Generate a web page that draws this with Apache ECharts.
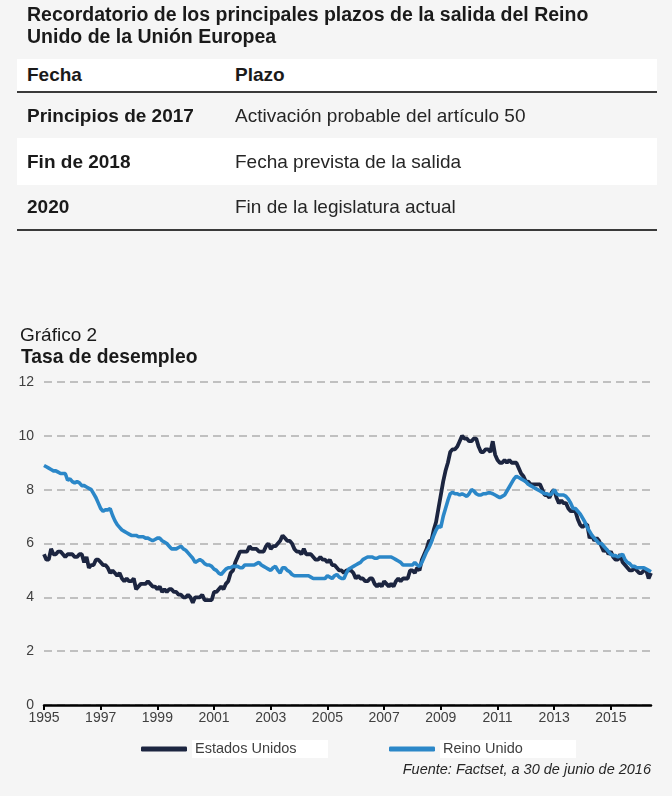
<!DOCTYPE html>
<html>
<head>
<meta charset="utf-8">
<script src="https://cdn.jsdelivr.net/npm/echarts@6/dist/echarts.min.js"></script>
<style>
  html, body { margin:0; padding:0; background:#f5f5f5; }
  body { width:672px; height:796px; position:relative; overflow:hidden; font-family:"Liberation Sans", Arial, sans-serif; color:#1a1a1a; }
  #chart { position:absolute; left:0; top:0; width:672px; height:796px; }
  .abs { position:absolute; white-space:nowrap; }
  .row { position:absolute; left:17px; width:640px; }
  .cell { position:absolute; top:0; bottom:0; display:flex; align-items:center; font-size:19px; }
  .b { font-weight:bold; }
  .rule { position:absolute; left:17px; width:640px; height:2px; background:#3a3a3a; }
</style>
</head>
<body>
<div id="chart"></div>

<div class="abs b" style="left:27px; top:4px; font-size:19.5px; line-height:21.5px;">Recordatorio de los principales plazos de la salida del Reino<br>Unido de la Unión Europea</div>

<div class="row" style="top:59px; height:32px; background:#fff;">
  <div class="cell b" style="left:10px;">Fecha</div>
  <div class="cell b" style="left:218px;">Plazo</div>
</div>
<div class="rule" style="top:91px;"></div>
<div class="row" style="top:93px; height:45px;">
  <div class="cell b" style="left:10px;">Principios de 2017</div>
  <div class="cell" style="left:218px; color:#262626;">Activación probable del artículo 50</div>
</div>
<div class="row" style="top:138px; height:47px; background:#fff;">
  <div class="cell b" style="left:10px;">Fin de 2018</div>
  <div class="cell" style="left:218px; color:#262626;">Fecha prevista de la salida</div>
</div>
<div class="row" style="top:185px; height:44px;">
  <div class="cell b" style="left:10px;">2020</div>
  <div class="cell" style="left:218px; color:#262626;">Fin de la legislatura actual</div>
</div>
<div class="rule" style="top:229px;"></div>

<div class="abs" style="left:20px; top:325px; font-size:19px; line-height:19px;">Gráfico 2</div>
<div class="abs b" style="left:21px; top:347px; font-size:19.3px; line-height:19px;">Tasa de desempleo</div>

<script>
// Monthly categories, Jan 1995 .. Jun 2016
const startYear = 1995, endYear = 2016, endMonth = 6;
const months = [];
for (let y = startYear; y <= endYear; y++) {
  for (let m = 1; m <= 12; m++) {
    if (y === endYear && m > endMonth) break;
    months.push(y + '-' + (m < 10 ? '0' + m : m));
  }
}

const seriesNames = ['Estados Unidos', 'Reino Unido'];

// Estados Unidos, monthly unemployment rate (%)
const usRate = [
  5.6,5.4,5.4,5.8,5.6,5.6,5.7,5.7,5.6,5.5,5.6,5.6,   // 1995
  5.6,5.5,5.5,5.6,5.6,5.3,5.5,5.1,5.2,5.2,5.4,5.4,   // 1996
  5.3,5.2,5.2,5.1,4.9,5.0,4.9,4.8,4.9,4.7,4.6,4.7,   // 1997
  4.6,4.6,4.7,4.3,4.4,4.5,4.5,4.5,4.6,4.5,4.4,4.4,   // 1998
  4.3,4.4,4.2,4.3,4.2,4.3,4.3,4.2,4.2,4.1,4.1,4.0,   // 1999
  4.0,4.1,4.0,3.8,4.0,4.0,4.0,4.1,3.9,3.9,3.9,3.9,   // 2000
  4.2,4.2,4.3,4.4,4.3,4.5,4.6,4.9,5.0,5.3,5.5,5.7,   // 2001
  5.7,5.7,5.7,5.9,5.8,5.8,5.8,5.7,5.7,5.7,5.9,6.0,   // 2002
  5.8,5.9,5.9,6.0,6.1,6.3,6.2,6.1,6.1,6.0,5.8,5.7,   // 2003
  5.7,5.6,5.8,5.6,5.6,5.6,5.5,5.4,5.4,5.5,5.4,5.4,   // 2004
  5.3,5.4,5.2,5.2,5.1,5.0,5.0,4.9,5.0,5.0,5.0,4.9,   // 2005
  4.7,4.8,4.7,4.7,4.6,4.6,4.7,4.7,4.5,4.4,4.5,4.4,   // 2006
  4.6,4.5,4.4,4.5,4.4,4.6,4.7,4.6,4.7,4.7,4.7,5.0,   // 2007
  5.0,4.9,5.1,5.0,5.4,5.6,5.8,6.1,6.1,6.5,6.8,7.3,   // 2008
  7.8,8.3,8.7,9.0,9.4,9.5,9.5,9.6,9.8,10.0,9.9,9.9,  // 2009
  9.8,9.8,9.9,9.9,9.6,9.4,9.4,9.5,9.5,9.4,9.8,9.3,   // 2010
  9.1,9.0,9.0,9.1,9.0,9.1,9.0,9.0,9.0,8.8,8.6,8.5,   // 2011
  8.3,8.3,8.2,8.2,8.2,8.2,8.2,8.0,7.8,7.8,7.7,7.9,   // 2012
  8.0,7.7,7.5,7.6,7.5,7.5,7.3,7.2,7.2,7.2,6.9,6.7,   // 2013
  6.6,6.7,6.7,6.2,6.3,6.1,6.2,6.1,5.9,5.7,5.8,5.6,   // 2014
  5.7,5.5,5.4,5.4,5.6,5.3,5.2,5.1,5.0,5.0,5.1,5.0,   // 2015
  4.9,4.9,5.0,5.0,4.7,4.9                            // 2016
];

// Reino Unido, monthly unemployment rate (%)
const ukRate = [
  8.9,8.85,8.8,8.75,8.7,8.7,8.65,8.6,8.6,8.6,8.35,8.4,       // 1995
  8.3,8.25,8.3,8.25,8.15,8.15,8.1,8.05,8.0,7.85,7.7,7.5,     // 1996
  7.3,7.2,7.25,7.25,7.3,7.05,6.85,6.7,6.6,6.5,6.45,6.4,      // 1997
  6.35,6.3,6.3,6.3,6.25,6.25,6.25,6.2,6.2,6.15,6.1,6.15,     // 1998
  6.2,6.2,6.1,6.05,6.0,5.9,5.8,5.8,5.8,5.85,5.9,5.8,         // 1999
  5.75,5.65,5.55,5.45,5.3,5.35,5.4,5.35,5.25,5.2,5.2,5.15,   // 2000
  5.05,5.0,4.9,4.85,4.95,5.05,5.1,5.1,5.15,5.15,5.15,5.1,    // 2001
  5.1,5.2,5.2,5.2,5.2,5.2,5.25,5.3,5.2,5.15,5.1,5.05,        // 2002
  5.0,5.1,5.15,5.0,4.9,5.1,5.1,5.0,4.95,4.85,4.8,4.8,        // 2003
  4.8,4.8,4.8,4.8,4.8,4.75,4.7,4.7,4.7,4.7,4.7,4.7,          // 2004
  4.8,4.75,4.7,4.8,4.85,4.75,4.7,4.7,4.9,5.05,5.1,5.15,      // 2005
  5.2,5.25,5.3,5.4,5.45,5.5,5.5,5.5,5.45,5.45,5.5,5.5,       // 2006
  5.5,5.5,5.5,5.5,5.45,5.4,5.35,5.3,5.2,5.2,5.2,5.2,         // 2007
  5.2,5.3,5.2,5.15,5.3,5.5,5.7,5.85,6.05,6.3,6.5,6.65,       // 2008
  6.6,7.0,7.3,7.6,7.85,7.9,7.85,7.85,7.8,7.85,7.8,7.75,      // 2009
  7.85,8.0,7.95,7.85,7.8,7.8,7.85,7.85,7.88,7.88,7.85,7.8,   // 2010
  7.75,7.7,7.75,7.8,7.95,8.1,8.25,8.4,8.5,8.45,8.4,8.35,     // 2011
  8.3,8.2,8.15,8.1,8.05,8.0,7.95,7.9,7.85,7.85,7.8,7.85,     // 2012
  8.0,7.85,7.8,7.8,7.8,7.75,7.65,7.5,7.3,7.3,7.2,7.1,        // 2013
  6.95,6.8,6.6,6.45,6.3,6.2,6.1,6.0,6.0,5.9,5.8,5.7,         // 2014
  5.6,5.55,5.55,5.5,5.55,5.6,5.4,5.3,5.25,5.15,5.15,5.1,     // 2015
  5.1,5.1,5.1,5.05,5.0,4.95                                  // 2016
];

const yTicks = { min: 0, max: 12, step: 2 };
const sourceText = 'Fuente: Factset, a 30 de junio de 2016';

const isOddYearJan = (idx) => {
  const c = months[idx];
  const y = +c.slice(0, 4), m = c.slice(5);
  return m === '01' && (y - startYear) % 2 === 0;
};

const FONT = '"Liberation Sans", Arial, sans-serif';
const chart = echarts.init(document.getElementById('chart'));
chart.setOption({
  backgroundColor: 'transparent',
  animation: false,
  textStyle: { fontFamily: FONT },
  grid: { left: 44, right: 21, top: 382, bottom: 91, containLabel: false },
  xAxis: {
    type: 'category',
    data: months,
    boundaryGap: false,
    axisLine: { lineStyle: { color: '#000', width: 2.5 } },
    axisTick: { interval: (i) => isOddYearJan(i), length: 5, lineStyle: { color: '#000', width: 2 } },
    axisLabel: {
      interval: (i) => isOddYearJan(i),
      formatter: (v) => v.slice(0, 4),
      color: '#404040', fontSize: 14, margin: 6, fontFamily: FONT
    },
    splitLine: { show: false }
  },
  yAxis: {
    type: 'value',
    min: yTicks.min, max: yTicks.max, interval: yTicks.step,
    axisLine: { show: false },
    axisTick: { show: false },
    axisLabel: { color: '#404040', fontSize: 14, margin: 10, fontFamily: FONT },
    splitLine: { lineStyle: { color: '#c0c0c0', width: 2, type: [8, 5] } }
  },
  legend: {
    left: 141, top: 740, padding: 0,
    itemWidth: 46, itemHeight: 5, itemGap: 61,
    icon: 'roundRect',
    textStyle: {
      fontSize: 14.5, color: '#404040', fontFamily: FONT,
      backgroundColor: '#fff', width: 130, padding: [1, 3, 1, 3], lineHeight: 16
    },
    data: seriesNames
  },
  graphic: [{
    type: 'text', right: 21, top: 762,
    style: { text: sourceText, font: 'italic 14.5px ' + FONT, fill: '#262626' }
  }],
  series: [
    {
      name: seriesNames[0], type: 'line', data: usRate, showSymbol: false,
      color: '#1c2540', lineStyle: { width: 3.8, color: '#1c2540' }, z: 2
    },
    {
      name: seriesNames[1], type: 'line', data: ukRate, showSymbol: false,
      color: '#2b87c8', lineStyle: { width: 3.6, color: '#2b87c8' }, z: 3
    }
  ]
});
</script>
</body>
</html>
